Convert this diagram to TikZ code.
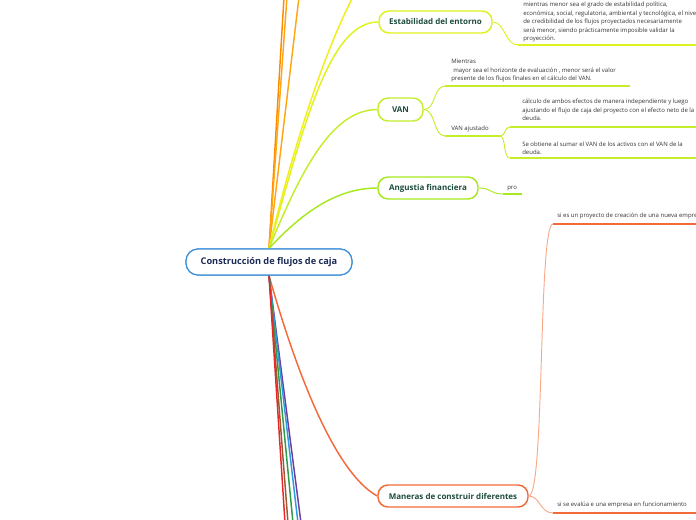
\documentclass[tikz,border=0pt]{standalone}
\usepackage{fontspec}
\setmainfont{Open Sans}
\definecolor{cblue}{HTML}{3D8FD8}
\definecolor{cnavy}{HTML}{1B2B55}
\definecolor{tgreen}{HTML}{1E4D3B}
\definecolor{cest}{HTML}{DEF21E}
\definecolor{cvan}{HTML}{C4EE2B}
\definecolor{cang}{HTML}{A6E920}
\definecolor{corangea}{HTML}{FF8A00}
\definecolor{corangeb}{HTML}{FFA614}
\definecolor{cgold}{HTML}{FFD21A}
\definecolor{cyellow}{HTML}{F3EE1B}
\definecolor{cman}{HTML}{F26A3A}
\definecolor{cmanlight}{HTML}{F7A98A}
\definecolor{cred}{HTML}{E8262B}
\definecolor{cbrown}{HTML}{9A5A2E}
\definecolor{cgreen}{HTML}{2E9A4A}
\definecolor{cbluel}{HTML}{2E9AE0}
\definecolor{cpurple}{HTML}{6A3FA0}
\definecolor{leaftext}{HTML}{333333}
\begin{document}
\begin{tikzpicture}[x=0.75pt,y=-0.75pt,
  centralbox/.style={draw=cblue, line width=0.9pt, rounded corners=9pt, fill=white,
    minimum width=124.5pt, minimum height=19.5pt, inner sep=0pt, text=cnavy,
    font=\fontsize{6.9}{8}\selectfont\bfseries},
  branchbox/.style={draw=#1, line width=1.1pt, rounded corners=7.5pt, fill=white,
    minimum height=16.5pt, inner sep=0pt, text=tgreen,
    font=\fontsize{6}{7.5}\selectfont\bfseries},
  leaf/.style={anchor=south west, align=left, inner sep=0pt, text depth=0pt,
    text=leaftext, font=\fontsize{4.5}{6.4}\selectfont},
  trunk/.style={draw=#1, line width=1.1pt},
  twig/.style={draw=#1, line width=0.7pt},
  uline/.style={draw=#1, line width=1.5pt}
]
\useasboundingbox (0,0) rectangle (696,520);
\clip (0,0) rectangle (696,520);

% ---------- nodes ----------
\node[centralbox] (c) at (269,262) {Construcción de flujos de caja};
\node[branchbox=cest, minimum width=84.75pt] (est) at (435.5,22) {Estabilidad del entorno};
\node[branchbox=cvan, minimum width=33.75pt, minimum height=17.25pt] (van) at (400.5,109.5) {VAN};
\node[branchbox=cang, minimum width=75pt] (ang) at (428,188) {Angustia financiera};
\node[branchbox=cman, minimum width=112.5pt] (man) at (453,496) {Maneras de construir diferentes};

% off-picture ends
\coordinate (oa) at (284,-3);
\coordinate (ob) at (287,-3);
\coordinate (oc) at (299,-3);
\coordinate (od) at (353,-3);
\coordinate (bred) at (285,523);
\coordinate (bbrown) at (288,523);
\coordinate (bgreen) at (293,523);
\coordinate (bblue) at (298,523);
\coordinate (bpurple) at (301,523);

% ---------- trunks from the central node ----------
\draw[trunk=corangeb] (c.north) -- (oc);
\draw[trunk=corangea] (c.north) -- (oa);
\draw[trunk=corangeb] (c.north) -- (ob);
\draw[trunk=cyellow] (c.north) .. controls (292,150) and (325,50) .. (od);
\draw[trunk=cest] (c.north) .. controls (305,120) and (330,22) .. (est.west);
\draw[trunk=cvan] (c.north) .. controls (305,160) and (335,110) .. (van.west);
\draw[trunk=cang] (c.north) .. controls (300,215) and (335,188) .. (ang.west);
\draw[trunk=cman] (c.south) .. controls (290,350) and (330,470) .. (man.west);
\draw[trunk=cpurple] (c.south) -- (bpurple);
\draw[trunk=cbluel] (c.south) -- (bblue);
\draw[trunk=cgreen] (c.south) -- (bgreen);
\draw[trunk=cbrown] (c.south) -- (bbrown);
\draw[trunk=cred] (c.south) -- (bred);
\node[centralbox] (cc) at (c) {Construcción de flujos de caja};

% ---------- Estabilidad del entorno ----------
\coordinate (e1a) at (518,45);
\coordinate (e1b) at (700,45);
\draw[twig=cest] (est.east) .. controls (505,22) and (505,45) .. (e1a);
\draw[uline=cest] (e1a) -- (e1b);
\node[leaf] (e1) at (523,41) {mientras menor sea el grado de estabilidad política,\\
económica, social, regulatoria, ambiental y tecnológica, el nivel\\
de credibilidad de los flujos proyectados necesariamente\\
será menor, siendo prácticamente imposible validar la\\
proyección.};

% ---------- VAN ----------
\coordinate (v1a) at (445,86);
\coordinate (v1b) at (630,86);
\draw[twig=cvan] (van.east) .. controls (436,110) and (433,86) .. (v1a);
\draw[uline=cvan] (v1a) -- (v1b);
\node[leaf] (v1) at (451,81) {Mientras\\
\hspace{1.5pt}mayor sea el horizonte de evaluación , menor será el valor\\
presente de los flujos finales en el cálculo del VAN.};

\coordinate (v2a) at (445,136);
\coordinate (v2b) at (500,136);
\draw[twig=cvan] (van.east) .. controls (436,110) and (433,136) .. (v2a);
\draw[uline=cvan] (v2a) -- (v2b);
\node[leaf] (v2) at (451,131) {VAN ajustado};

\coordinate (v3a) at (510,127);
\coordinate (v3b) at (700,127);
\draw[twig=cvan] (v2b) .. controls (506,136) and (504,127) .. (v3a);
\draw[uline=cvan] (v3a) -- (v3b);
\node[leaf] (v3) at (522,121) {cálculo de ambos efectos de manera independiente y luego\\
ajustando el flujo de caja del proyecto con el efecto neto de la\\
deuda.};

\coordinate (v4a) at (510,158);
\coordinate (v4b) at (700,158);
\draw[twig=cvan] (v2b) .. controls (506,136) and (503,158) .. (v4a);
\draw[uline=cvan] (v4a) -- (v4b);
\node[leaf] (v4) at (522,155) {Se obtiene al sumar el VAN de los activos con el VAN de la\\
deuda.};

% ---------- Angustia financiera ----------
\coordinate (a1a) at (503,194);
\coordinate (a1b) at (522,194);
\draw[twig=cang] (ang.east) .. controls (492,188) and (490,194) .. (a1a);
\draw[uline=cang] (a1a) -- (a1b);
\node[leaf] (a1) at (507,190) {pro};

% ---------- Maneras de construir diferentes ----------
\coordinate (m1a) at (553,224);
\coordinate (m1b) at (700,224);
\draw[twig=cmanlight] (man.east) .. controls (545,496) and (538,224) .. (m1a);
\draw[uline=cman] (m1a) -- (m1b);
\node[leaf] (m1) at (557,218) {si es un proyecto de creación de una nueva empresa};

\coordinate (m2a) at (553,513);
\coordinate (m2b) at (700,513);
\draw[twig=cmanlight] (man.east) .. controls (540,496) and (540,513) .. (m2a);
\draw[uline=cman] (m2a) -- (m2b);
\node[leaf] (m2) at (557,507) {si se evalúa e una empresa en funcionamiento};
\end{tikzpicture}
\end{document}
